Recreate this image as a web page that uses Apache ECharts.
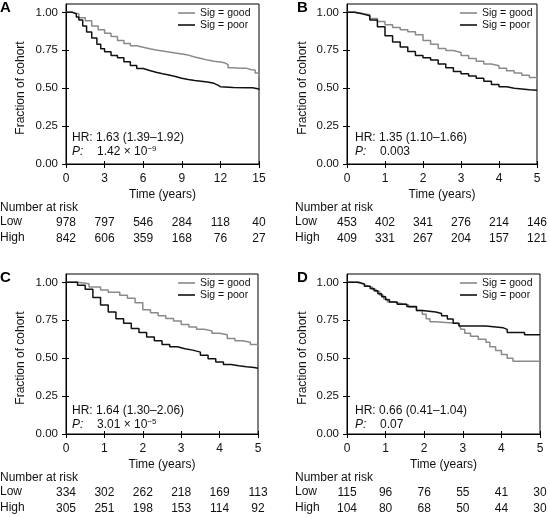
<!DOCTYPE html>
<html>
<head>
<meta charset="utf-8">
<script src="https://cdn.jsdelivr.net/npm/echarts@6/dist/echarts.min.js"></script>
<style>html,body{margin:0;padding:0;background:#fff;}#c{width:550px;height:517px;}</style>
</head>
<body>
<div id="c"></div>
<script>
// ---------- data ----------
const seriesNames = ['Sig = good', 'Sig = poor'];
const yTicks = [0, 0.25, 0.5, 0.75, 1.0];

const ticksA = [0, 3, 6, 9, 12, 15];
const lowA = [978, 797, 546, 284, 118, 40];
const highA = [842, 606, 359, 168, 76, 27];
const goodA = [[0,1.0],[0.5,0.99],[1.0,0.965],[1.5,0.945],[2.0,0.91],[2.5,0.885],[3.0,0.862],[3.5,0.84],[4.0,0.815],[4.5,0.795],[5.0,0.78],[5.5,0.77],[6.0,0.76],[6.5,0.752],[7.0,0.745],[7.5,0.738],[8.0,0.732],[8.5,0.725],[9.0,0.718],[9.5,0.705],[10.0,0.695],[10.5,0.685],[11.0,0.678],[11.5,0.672],[12.0,0.668],[12.3,0.655],[12.6,0.635],[13.0,0.632],[13.5,0.632],[14.0,0.622],[14.4,0.62],[14.7,0.6],[15,0.57]];
const poorA = [[0,1.0],[0.5,0.99],[0.8,0.97],[1.0,0.95],[1.3,0.91],[1.6,0.87],[2.0,0.83],[2.4,0.79],[2.7,0.76],[3.0,0.74],[3.5,0.715],[4.0,0.70],[4.5,0.675],[5.0,0.65],[5.5,0.63],[6.0,0.617],[6.5,0.605],[7.0,0.595],[7.5,0.587],[8.0,0.577],[8.5,0.566],[9.0,0.557],[9.5,0.55],[10.0,0.545],[10.5,0.54],[11.0,0.532],[11.5,0.52],[11.8,0.51],[12.0,0.505],[13.0,0.503],[14.0,0.503],[14.5,0.495],[15,0.49]];

const ticksB = [0, 1, 2, 3, 4, 5];
const lowB = [453, 402, 341, 276, 214, 146];
const highB = [409, 331, 267, 204, 157, 121];
const goodB = [[0,1.0],[0.2,0.993],[0.4,0.985],[0.6,0.96],[0.8,0.94],[1.0,0.918],[1.2,0.9],[1.4,0.886],[1.6,0.872],[1.8,0.852],[2.0,0.815],[2.2,0.79],[2.4,0.762],[2.6,0.748],[2.8,0.735],[3.0,0.715],[3.2,0.695],[3.4,0.678],[3.6,0.66],[3.8,0.648],[4.0,0.632],[4.2,0.615],[4.4,0.6],[4.6,0.585],[4.8,0.57],[5.0,0.555]];
const poorB = [[0,1.0],[0.2,0.99],[0.4,0.978],[0.6,0.95],[0.8,0.905],[1.0,0.845],[1.2,0.805],[1.4,0.772],[1.6,0.742],[1.8,0.715],[2.0,0.70],[2.2,0.685],[2.4,0.66],[2.6,0.635],[2.8,0.61],[3.0,0.595],[3.2,0.58],[3.4,0.565],[3.6,0.545],[3.8,0.525],[4.0,0.51],[4.2,0.50],[4.4,0.495],[4.6,0.49],[4.8,0.486],[5.0,0.485]];

const ticksC = [0, 1, 2, 3, 4, 5];
const lowC = [334, 302, 262, 218, 169, 113];
const highC = [305, 251, 198, 153, 114, 92];
const goodC = [[0,1.0],[0.3,0.99],[0.6,0.97],[0.9,0.95],[1.1,0.935],[1.4,0.915],[1.6,0.895],[1.8,0.865],[2.0,0.82],[2.2,0.8],[2.4,0.78],[2.6,0.762],[2.8,0.745],[3.0,0.722],[3.2,0.705],[3.4,0.69],[3.6,0.68],[3.8,0.665],[4.0,0.655],[4.2,0.63],[4.4,0.615],[4.6,0.605],[4.8,0.59],[5.0,0.57]];
const poorC = [[0,1.0],[0.3,0.98],[0.5,0.955],[0.7,0.9],[0.9,0.85],[1.1,0.805],[1.3,0.76],[1.5,0.73],[1.7,0.695],[1.9,0.67],[2.1,0.64],[2.3,0.615],[2.5,0.59],[2.7,0.575],[2.9,0.562],[3.1,0.553],[3.3,0.54],[3.5,0.52],[3.7,0.497],[3.9,0.475],[4.1,0.458],[4.3,0.45],[4.5,0.443],[4.7,0.438],[4.9,0.433],[5.0,0.432]];

const ticksD = [0, 1, 2, 3, 4, 5];
const lowD = [115, 96, 76, 55, 41, 30];
const highD = [104, 80, 68, 50, 44, 30];
const goodD = [[0,1.0],[0.25,0.99],[0.4,0.98],[0.5,0.97],[0.65,0.955],[0.75,0.94],[0.85,0.915],[0.95,0.89],[1.05,0.87],[1.2,0.86],[1.4,0.85],[1.6,0.835],[1.8,0.815],[1.95,0.79],[2.05,0.76],[2.15,0.74],[2.3,0.728],[2.9,0.72],[2.95,0.69],[3.05,0.665],[3.2,0.645],[3.4,0.625],[3.6,0.605],[3.7,0.575],[3.85,0.55],[4.0,0.525],[4.15,0.5],[4.3,0.48],[5.0,0.48]];
const poorD = [[0,1.0],[0.3,0.99],[0.45,0.975],[0.6,0.96],[0.7,0.945],[0.8,0.925],[0.9,0.905],[1.0,0.885],[1.1,0.87],[1.3,0.855],[1.55,0.84],[1.8,0.815],[1.95,0.805],[2.3,0.795],[2.45,0.78],[2.6,0.758],[2.75,0.73],[2.9,0.712],[3.6,0.70],[4.05,0.69],[4.15,0.67],[4.6,0.655],[5.0,0.655]];

const hrTexts = ['HR: 1.63 (1.39\u20131.92)', 'HR: 1.35 (1.10\u20131.66)', 'HR: 1.64 (1.30\u20132.06)', 'HR: 0.66 (0.41\u20131.04)'];
const pTexts = ['1.42 \u00d7 10{sup|\u22129}', '0.003', '3.01 \u00d7 10{sup|\u22125}', '0.07'];
const letters = ['A', 'B', 'C', 'D'];

// ---------- layout ----------
const FONT = '"Liberation Sans", Arial, Helvetica, sans-serif';
const GOOD = '#8a8a8a', POOR = '#111111';
const panels = [
  {left: 66, top: 4, width: 193, height: 160, xmax: 15, itv: 3, ticks: ticksA, low: lowA, high: highA, good: goodA, poor: poorA},
  {left: 347, top: 4, width: 192, height: 160, xmax: 5, itv: 1, ticks: ticksB, low: lowB, high: highB, good: goodB, poor: poorB},
  {left: 66, top: 274, width: 192, height: 160, xmax: 5, itv: 1, ticks: ticksC, low: lowC, high: highC, good: goodC, poor: poorC},
  {left: 347, top: 274, width: 193, height: 160, xmax: 5, itv: 1, ticks: ticksD, low: lowD, high: highD, good: goodD, poor: poorD}
];
const YMAX = 1.055;

const grid = [], xAxis = [], yAxis = [], series = [], legend = [], graphic = [];
panels.forEach((p, i) => {
  grid.push({left: p.left, top: p.top, width: p.width, height: p.height, show: true, borderColor: '#000', borderWidth: 1, containLabel: false});
  const base = {gridIndex: i, type: 'value', min: 0, max: p.xmax, interval: p.itv, splitLine: {show: false}};
  xAxis.push(Object.assign({}, base, {
    position: 'bottom',
    name: 'Time (years)', nameLocation: 'middle', nameGap: 25,
    nameTextStyle: {fontFamily: FONT, fontSize: 12, color: '#111'},
    axisLine: {show: true, lineStyle: {color: '#000', width: 1}},
    axisTick: {show: true, inside: false, length: 4, lineStyle: {color: '#000'}},
    axisLabel: {margin: 9, fontFamily: FONT, fontSize: 12, color: '#111'}
  }));
  xAxis.push(Object.assign({}, base, {
    position: 'top',
    axisLine: {show: false},
    axisTick: {show: true, inside: false, length: 3, lineStyle: {color: '#000'}},
    axisLabel: {show: false}
  }));
  [[p.low, 45], [p.high, 61]].forEach(([arr, off]) => {
    xAxis.push(Object.assign({}, base, {
      position: 'bottom', offset: off,
      axisLine: {show: false}, axisTick: {show: false},
      axisLabel: {margin: 8, fontFamily: FONT, fontSize: 12, color: '#111',
        formatter: v => { const k = p.ticks.indexOf(Math.round(v * 1000) / 1000); return k >= 0 ? String(arr[k]) : ''; }}
    }));
  });
  yAxis.push({
    gridIndex: i, type: 'value', min: 0, max: YMAX, position: 'left',
    splitLine: {show: false},
    axisLine: {show: true, lineStyle: {color: '#000'}},
    axisTick: {show: true, inside: false, length: 4, customValues: yTicks, lineStyle: {color: '#000'}},
    axisLabel: {margin: 8, fontFamily: FONT, fontSize: 11.5, color: '#111', customValues: yTicks,
      formatter: v => v.toFixed(2)}
  });
  yAxis.push({
    gridIndex: i, type: 'value', min: 0, max: YMAX, position: 'right',
    splitLine: {show: false},
    axisLine: {show: false},
    axisTick: {show: true, inside: false, length: 3, customValues: yTicks, lineStyle: {color: '#000'}},
    axisLabel: {show: false}
  });
  [[seriesNames[0], p.good, GOOD], [seriesNames[1], p.poor, POOR]].forEach(([nm, d, col]) => {
    series.push({
      type: 'line', name: nm, step: 'end', data: d,
      xAxisIndex: i * 4, yAxisIndex: i * 2,
      showSymbol: false, symbol: 'none', color: col,
      lineStyle: {color: col, width: 1.5}, itemStyle: {color: col},
      animation: false, silent: true
    });
  });
  const legLeft = (i % 2 === 0) ? 178 : 460;
  legend.push({
    orient: 'vertical', left: legLeft, top: p.top + 3, padding: 0, itemGap: 0,
    icon: 'rect', itemWidth: 17, itemHeight: 1.6,
    data: seriesNames, selectedMode: false,
    textStyle: {fontFamily: FONT, fontSize: 10.5, color: '#111', lineHeight: 12}
  });
  const col0 = (i % 2 === 0) ? 0 : 295;
  const tx = (i % 2 === 0) ? 72 : 355;
  const rowTop = i < 2 ? 0 : 270;
  const hrY = i < 2 ? 138 : 411;
  graphic.push({type: 'text', x: tx, y: hrY, style: {text: hrTexts[i], font: '12px ' + FONT, fill: '#111', verticalAlign: 'middle'}});
  graphic.push({type: 'text', x: tx, y: hrY + 14, style: {text: 'P:', font: 'italic 12px ' + FONT, fill: '#111', verticalAlign: 'middle'}});
  graphic.push({type: 'text', x: tx + 25, y: hrY + 14, style: {text: pTexts[i], font: '12px ' + FONT, fill: '#111', verticalAlign: 'middle', lineHeight: 14,
    rich: {sup: {fontSize: 8, fontFamily: FONT, fill: '#111', verticalAlign: 'top', lineHeight: 8}}}});
  graphic.push({type: 'text', x: (i % 2 === 0) ? 21 : 303, y: rowTop + 88, rotation: Math.PI / 2,
    style: {text: 'Fraction of cohort', font: '12px ' + FONT, fill: '#111', align: 'center', verticalAlign: 'middle'}});
  graphic.push({type: 'text', x: (i % 2 === 0) ? 0 : 297, y: rowTop + 8, style: {text: letters[i], font: 'bold 15px ' + FONT, fill: '#000', verticalAlign: 'middle'}});
  const axisY = p.top + p.height;
  graphic.push({type: 'text', x: col0, y: axisY + 44, style: {text: 'Number at risk', font: '12px ' + FONT, fill: '#111', verticalAlign: 'middle'}});
  graphic.push({type: 'text', x: col0, y: axisY + 58, style: {text: 'Low', font: '12px ' + FONT, fill: '#111', verticalAlign: 'middle'}});
  graphic.push({type: 'text', x: col0, y: axisY + 74, style: {text: 'High', font: '12px ' + FONT, fill: '#111', verticalAlign: 'middle'}});
});

const chart = echarts.init(document.getElementById('c'), null, {renderer: 'canvas'});
chart.setOption({
  animation: false,
  backgroundColor: '#fff',
  textStyle: {fontFamily: FONT},
  grid, xAxis, yAxis, series, legend, graphic
});
</script>
</body>
</html>
